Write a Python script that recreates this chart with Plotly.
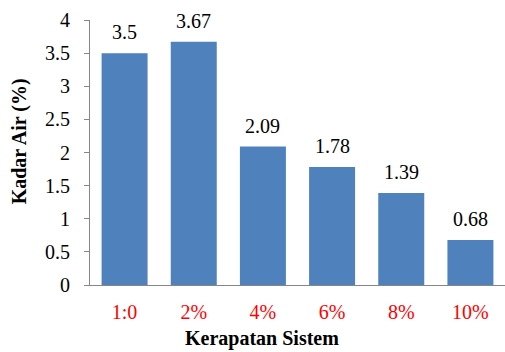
import plotly.graph_objects as go

categories = ["1:0", "2%", "4%", "6%", "8%", "10%"]
values = [3.5, 3.67, 2.09, 1.78, 1.39, 0.68]
labels = ["3.5", "3.67", "2.09", "1.78", "1.39", "0.68"]

FONT = "Liberation Serif"
GRAY = "#868686"

fig = go.Figure()
fig.add_trace(go.Bar(x=categories, y=values, marker=dict(color="#4F81BD", line=dict(width=0)),
                     hoverinfo="skip"))

for c, v, t in zip(categories, values, labels):
    fig.add_annotation(x=c, y=v, text=t, showarrow=False, yshift=21,
                       font=dict(family=FONT, size=20, color="black"))

fig.add_annotation(xref="paper", yref="paper", x=0.415, y=-0.2,
                   text="<b>Kerapatan Sistem</b>", showarrow=False,
                   xanchor="center", yanchor="middle",
                   font=dict(family=FONT, size=20, color="black"))
fig.add_annotation(xref="paper", yref="paper", x=-0.169, y=0.5,
                   text="<b>Kadar Air (%)</b>", showarrow=False, textangle=-90,
                   xanchor="center", yanchor="middle", yshift=11,
                   font=dict(family=FONT, size=20, color="black"))

fig.update_layout(
    template="none",
    width=505, height=352,
    margin=dict(l=90, r=0, t=20, b=67),
    paper_bgcolor="white", plot_bgcolor="white",
    bargap=0.335,
    showlegend=False,
    font=dict(family=FONT, size=20, color="black"),
)
fig.update_xaxes(type="category", range=[-0.5, 5.5], showline=True, linecolor=GRAY, linewidth=1,
                 ticks="outside", ticklen=9, tickcolor="rgba(0,0,0,0)",
                 tickfont=dict(family=FONT, size=20, color="#FF0000"), showgrid=False)
fig.update_yaxes(range=[0, 4], dtick=0.5, showline=True, linecolor=GRAY, linewidth=1,
                 ticks="outside", ticklen=5, tickcolor=GRAY, showgrid=False, zeroline=False,
                 ticklabelstandoff=10,
                 tickfont=dict(family=FONT, size=20, color="black"))

fig.write_html("out.html")
